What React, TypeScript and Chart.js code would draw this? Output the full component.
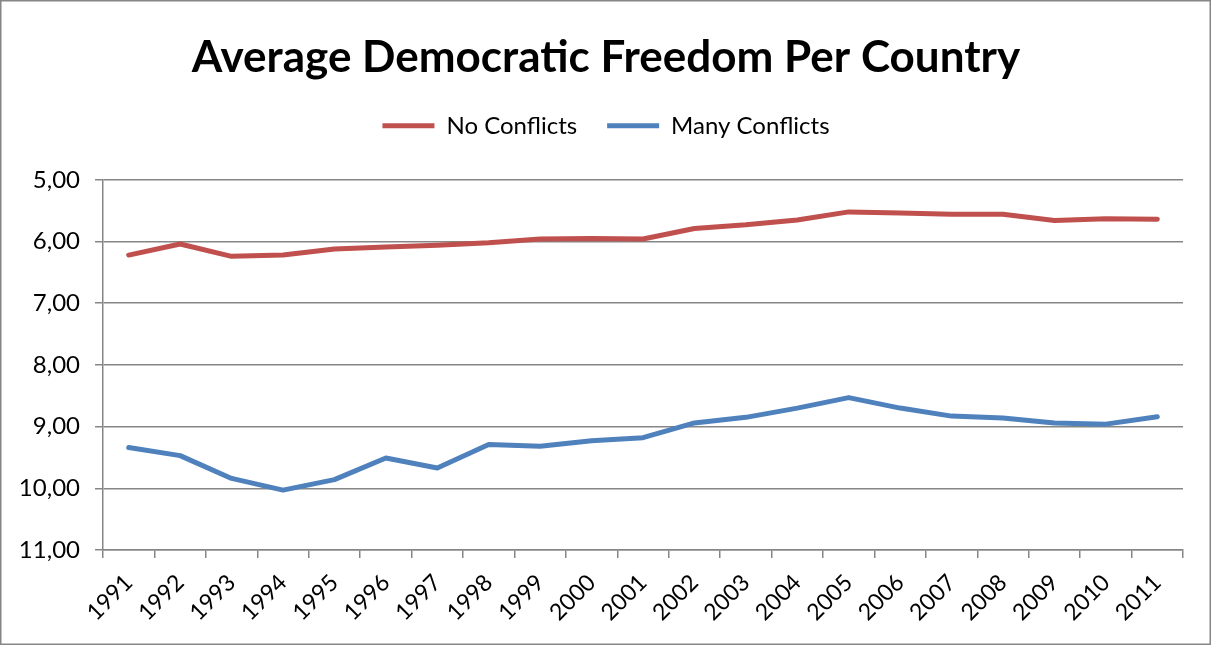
import React, { useEffect, useRef } from 'react';
import { Chart, registerables } from 'chart.js';

Chart.register(...registerables);

const years = ['1991', '1992', '1993', '1994', '1995', '1996', '1997', '1998', '1999', '2000', '2001', '2002', '2003', '2004', '2005', '2006', '2007', '2008', '2009', '2010', '2011'];
const noConflicts = [6.22, 6.04, 6.24, 6.22, 6.12, 6.09, 6.06, 6.02, 5.96, 5.95, 5.96, 5.79, 5.73, 5.65, 5.52, 5.54, 5.56, 5.56, 5.66, 5.63, 5.64];
const manyConflicts = [9.34, 9.47, 9.84, 10.03, 9.86, 9.51, 9.67, 9.29, 9.32, 9.23, 9.18, 8.94, 8.85, 8.7, 8.53, 8.7, 8.83, 8.86, 8.94, 8.96, 8.84];
const yTickValues = [5, 6, 7, 8, 9, 10, 11];
const yTickLabels = ['5,00', '6,00', '7,00', '8,00', '9,00', '10,00', '11,00'];
const titleText = 'Average Democratic Freedom Per Country';
const seriesNames = ['No Conflicts', 'Many Conflicts'];

const FONT = 'Lato, "Open Sans", sans-serif';
const GRID = '#868686';

const framePlugin = {
  id: 'frame',
  beforeDraw(chart: any) {
    const { ctx, width, height } = chart;
    ctx.save();
    ctx.fillStyle = '#ffffff';
    ctx.fillRect(0, 0, width, height);
    ctx.strokeStyle = GRID;
    ctx.lineWidth = 1.5;
    ctx.strokeRect(0.75, 0.75, width - 2.5, height - 2.5);
    ctx.restore();
  },
};

export default function App() {
  const ref = useRef<HTMLCanvasElement | null>(null);

  useEffect(() => {
    document.body.style.margin = '0';
    if (!ref.current) return;
    const chart = new Chart(ref.current, {
      type: 'line',
      data: {
        labels: years,
        datasets: [
          {
            label: seriesNames[0],
            data: noConflicts,
            borderColor: '#C0504D',
            backgroundColor: '#C0504D',
            borderWidth: 5,
            pointRadius: 0,
            tension: 0,
            fill: false,
            borderCapStyle: 'round',
            borderJoinStyle: 'round',
          },
          {
            label: seriesNames[1],
            data: manyConflicts,
            borderColor: '#4F81BD',
            backgroundColor: '#4F81BD',
            borderWidth: 5,
            pointRadius: 0,
            tension: 0,
            fill: false,
            borderCapStyle: 'round',
            borderJoinStyle: 'round',
          },
        ],
      },
      options: {
        responsive: false,
        animation: false,
        devicePixelRatio: 1,
        layout: { padding: { left: 0, right: 0, top: 0, bottom: 0 } },
        plugins: {
          title: {
            display: true,
            text: titleText,
            color: '#000',
            font: { family: FONT, size: 44, weight: 'bold', lineHeight: 1.2 },
            padding: { top: 31, bottom: 0 },
          },
          subtitle: {
            display: true,
            text: '',
            position: 'top',
            weight: 1500,
            font: { size: 1, lineHeight: 1 },
            padding: { top: 31, bottom: 0 },
          },
          legend: {
            display: true,
            position: 'top',
            weight: 1800,
            labels: {
              color: '#000',
              font: { family: FONT, size: 24 },
              usePointStyle: true,
              pointStyle: 'line',
              pointStyleWidth: 52,
              padding: 30,
            },
          } as any,
          tooltip: { enabled: false },
        },
        scales: {
          x: {
            type: 'category',
            offset: true,
            grid: {
              display: true,
              drawOnChartArea: false,
              drawTicks: true,
              tickLength: 8,
              offset: true,
              color: GRID,
              lineWidth: 1.5,
            },
            border: { display: true, color: GRID, width: 1.5 },
            ticks: {
              color: '#000',
              font: { family: FONT, size: 23 },
              minRotation: 45,
              maxRotation: 45,
              autoSkip: false,
              padding: 11,
            },
            afterFit(scale: any) {
              scale.height = 96;
            },
          },
          y: {
            position: 'left',
            reverse: true,
            min: 5,
            max: 11,
            grid: {
              color: GRID,
              lineWidth: 1.5,
              drawTicks: true,
              tickLength: 8,
            },
            border: { display: true, color: GRID, width: 1.5 },
            ticks: {
              stepSize: 1,
              color: '#000',
              font: { family: FONT, size: 24 },
              padding: 15,
              callback: (v: any) => {
                const k = yTickValues.indexOf(Math.round(Number(v)));
                return k >= 0 ? yTickLabels[k] : '';
              },
            },
            afterFit(scale: any) {
              scale.width = 103;
            },
          },
          yRightSpace: {
            position: 'right',
            display: true,
            grid: { display: false, drawTicks: false },
            border: { display: false },
            ticks: { display: false },
            afterFit(scale: any) {
              scale.width = 29;
            },
          },
        },
      } as any,
      plugins: [framePlugin],
    });
    return () => chart.destroy();
  }, []);

  return (
    <div style={{ width: 1212, height: 646 }}>
      <canvas ref={ref} width={1212} height={646} style={{ display: 'block' }} />
    </div>
  );
}
